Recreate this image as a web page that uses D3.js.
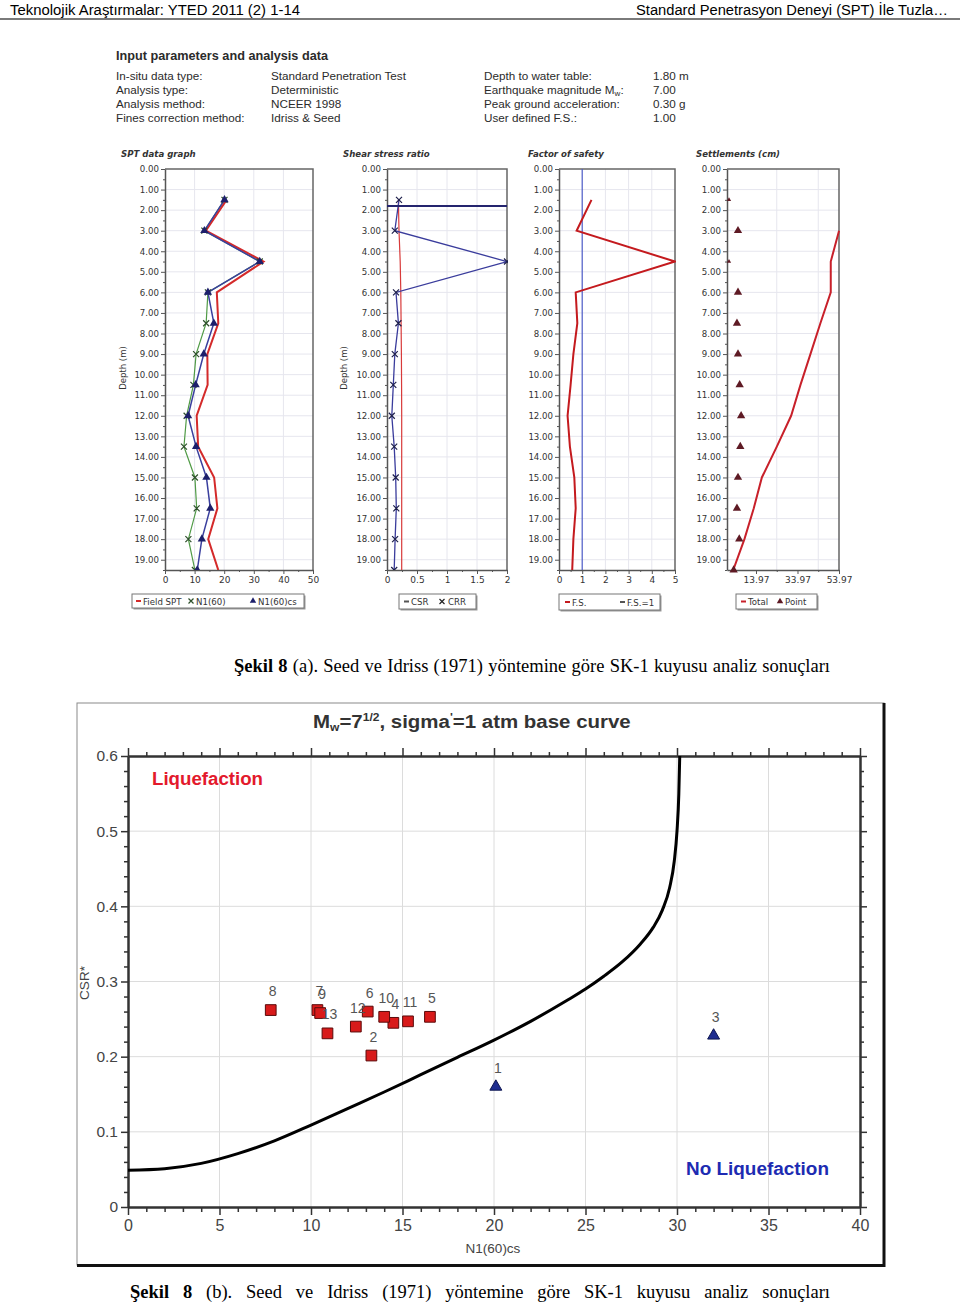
<!DOCTYPE html>
<html><head><meta charset="utf-8">
<script src="https://cdn.jsdelivr.net/npm/d3@7"></script>
<style>body{margin:0;background:#fff}svg{display:block}</style>
</head><body>
<svg id="c" width="960" height="1306"></svg>
<script>
// ---------------- DATA ----------------
const headerLeft = "Teknolojik Araştırmalar: YTED 2011 (2) 1-14";
const headerRight = "Standard Penetrasyon Deneyi (SPT) İle Tuzla…";
const paramTitle = "Input parameters and analysis data";
const paramLabelsL = ["In-situ data type:", "Analysis type:", "Analysis method:", "Fines correction method:"];
const paramValuesL = ["Standard Penetration Test", "Deterministic", "NCEER 1998", "Idriss & Seed"];
const paramLabelsR = ["Depth to water table:", "Earthquake magnitude M", "Peak ground acceleration:", "User defined F.S.:"];
const paramValuesR = ["1.80 m", "7.00", "0.30 g", "1.00"];

const depths   = [1.5, 3.0, 4.5, 6.0, 7.5, 9.0, 10.5, 12.0, 13.5, 15.0, 16.5, 18.0, 19.5];
const fieldSPT = [20.8, 13.8, 33.3, 17.5, 18.0, 14.3, 14.4, 10.7, 11.2, 16.6, 17.7, 14.6, 18.0];
const n160     = [20.1, 13.3, 32.0, 14.5, 13.9, 10.5, 9.6, 7.3, 6.4, 10.1, 10.7, 7.9, 10.1];
const n160cs   = [20.1, 13.3, 32.0, 14.5, 16.5, 13.1, 10.35, 7.8, 10.5, 14.0, 15.3, 12.45, 10.9];
const csr      = [0.19, 0.20, 0.22, 0.23, 0.235, 0.24, 0.243, 0.245, 0.245, 0.245, 0.245, 0.245, 0.245];
const crr      = [0.20, 0.13, 2.0, 0.15, 0.19, 0.13, 0.105, 0.08, 0.12, 0.145, 0.155, 0.135, 0.12];
const fsValues = [1.4, 0.76, 5.0, 0.72, 0.79, 0.62, 0.50, 0.37, 0.47, 0.66, 0.72, 0.62, 0.57];
const waterTable = 1.8;
const settleDepths = [3.0, 4.5, 6.0, 7.5, 9.0, 10.5, 12.0, 13.5, 15.0, 16.5, 18.0, 19.5];
const settleTotal  = [54.0, 50.0, 50.0, 45.0, 40.2, 35.4, 30.9, 24.0, 16.8, 12.9, 8.4, 3.0];
const settlePoint  = [0, 5.3, 0, 5.3, 4.8, 5.3, 6.1, 6.8, 6.4, 5.3, 4.8, 5.9, 3.2];
const depthTicks = d3.range(0, 20);

const sptTicks = [0, 10, 20, 30, 40, 50];
const srTicks = [0, 0.5, 1, 1.5, 2];
const fsTicks = [0, 1, 2, 3, 4, 5];
const setTicks = [13.97, 33.97, 53.97];
const setMinor = [3.97, 23.97, 43.97];

// bottom chart
const curveN   = [0, 2, 4, 6, 8, 10, 12, 14, 16, 18, 20, 22, 24, 25, 26, 27, 28, 28.7, 29.2, 29.6, 29.85, 30.0, 30.1, 30.15];
const curveCSR = [0.049, 0.051, 0.058, 0.071, 0.088, 0.109, 0.131, 0.153, 0.176, 0.199, 0.222, 0.247, 0.275, 0.290, 0.307, 0.326, 0.350, 0.372, 0.395, 0.425, 0.46, 0.50, 0.55, 0.60];
const pointIds  = [1, 2, 3, 4, 5, 6, 7, 8, 9, 10, 11, 12, 13];
const pointN    = n160cs;
const pointCSR  = [0.160, 0.2015, 0.228, 0.245, 0.253, 0.260, 0.262, 0.262, 0.258, 0.253, 0.247, 0.240, 0.231];
const liquefied = [false, true, false, true, true, true, true, true, true, true, true, true, true];
const bxTicks = [0, 5, 10, 15, 20, 25, 30, 35, 40];
const byTicks = [0, 0.1, 0.2, 0.3, 0.4, 0.5, 0.6];

const caption1 = ["Şekil 8", " (a). Seed ve Idriss (1971) yöntemine göre SK-1 kuyusu analiz sonuçları"];
const caption2 = ["Şekil 8", " (b). Seed ve Idriss (1971) yöntemine göre SK-1 kuyusu analiz sonuçları"];

// ---------------- DRAW ----------------
const svg = d3.select("#c");
const SANS = "Liberation Sans, Arial, sans-serif";
const DV = "DejaVu Sans, Verdana, sans-serif";

// header
svg.append("text").attr("x", 10).attr("y", 15).attr("font-family", SANS).attr("font-size", 14)
  .attr("textLength", 290).attr("lengthAdjust", "spacingAndGlyphs").text(headerLeft);
svg.append("text").attr("x", 948).attr("y", 15).attr("text-anchor", "end").attr("font-family", SANS).attr("font-size", 14)
  .attr("textLength", 312).attr("lengthAdjust", "spacingAndGlyphs").text(headerRight);
svg.append("line").attr("x1", 0).attr("x2", 960).attr("y1", 19).attr("y2", 19).attr("stroke", "#7a7a7a").attr("stroke-width", 2);

// parameters
const pg = svg.append("g").attr("font-family", SANS).attr("fill", "#2b2b2b");
pg.append("text").attr("x", 116).attr("y", 60).attr("font-size", 12.5).attr("font-weight", "bold")
  .attr("textLength", 212).attr("lengthAdjust", "spacingAndGlyphs").text(paramTitle);
const rowY = [80, 94, 108, 122];
paramLabelsL.forEach((t, i) => pg.append("text").attr("x", 116).attr("y", rowY[i]).attr("font-size", 11.7).text(t));
paramValuesL.forEach((t, i) => pg.append("text").attr("x", 271).attr("y", rowY[i]).attr("font-size", 11.7).text(t));
paramLabelsR.forEach((t, i) => {
  const tx = pg.append("text").attr("x", 484).attr("y", rowY[i]).attr("font-size", 11.7).text(t);
  if (i === 1) { tx.append("tspan").attr("font-size", 8).attr("dy", 2).text("w"); tx.append("tspan").attr("dy", -2).text(":"); }
});
paramValuesR.forEach((t, i) => pg.append("text").attr("x", 653).attr("y", rowY[i]).attr("font-size", 11.7).text(t));

// small panels
const TOP = 169, BOT = 570;
const yD = d3.scaleLinear().domain([0, 19.5]).range([TOP, BOT]);

function styleAxis(g, size, color) {
  g.select(".domain").attr("stroke", "#555").attr("stroke-width", 1.5);
  g.selectAll(".tick line").attr("stroke", "#555");
  g.selectAll("text").attr("font-family", DV).attr("font-size", size).attr("fill", color || "#333");
}

function panel(cfg) {
  const x = d3.scaleLinear().domain(cfg.domain).range(cfg.range);
  const g = svg.append("g");
  const [x0, x1] = cfg.range;
  g.append("rect").attr("x", x0).attr("y", TOP).attr("width", x1 - x0).attr("height", BOT - TOP).attr("fill", "#fff");
  g.selectAll("line.gh").data(depthTicks.slice(1)).join("line").attr("class", "gh")
    .attr("x1", x0).attr("x2", x1).attr("y1", d => yD(d)).attr("y2", d => yD(d)).attr("stroke", "#e6e6ee");
  g.selectAll("line.gv").data(cfg.grid).join("line").attr("class", "gv")
    .attr("x1", d => x(d)).attr("x2", d => x(d)).attr("y1", TOP).attr("y2", BOT).attr("stroke", "#e6e6ee");
  g.append("path").attr("d", `M${x0},${TOP}H${x1}V${BOT}`).attr("fill", "none").attr("stroke", "#666").attr("stroke-width", 1.5);
  const ya = g.append("g").attr("transform", `translate(${x0},0)`)
    .call(d3.axisLeft(yD).tickValues(depthTicks).tickFormat(d => d.toFixed(2)).tickSize(4).tickPadding(2).tickSizeOuter(0));
  styleAxis(ya, 8.6);
  const ym = g.append("g").attr("transform", `translate(${x0},0)`)
    .call(d3.axisLeft(yD).tickValues(depthTicks.map(d => d + 0.5)).tickFormat("").tickSize(2).tickSizeOuter(0));
  ym.select(".domain").remove(); ym.selectAll(".tick line").attr("stroke", "#555");
  const xa = g.append("g").attr("transform", `translate(0,${BOT})`)
    .call(d3.axisBottom(x).tickValues(cfg.ticks).tickFormat(cfg.fmt || (d => d)).tickSize(4).tickPadding(3).tickSizeOuter(0));
  styleAxis(xa, 9, "#333");
  const xm = g.append("g").attr("transform", `translate(0,${BOT})`)
    .call(d3.axisBottom(x).tickValues(cfg.minor).tickFormat("").tickSize(2).tickSizeOuter(0));
  xm.select(".domain").remove(); xm.selectAll(".tick line").attr("stroke", "#555");
  svg.append("text").attr("x", cfg.titleX).attr("y", 157).attr("font-family", DV).attr("font-size", 8.6)
    .attr("font-weight", "bold").attr("font-style", "italic").attr("fill", "#333").text(cfg.title);
  if (cfg.depthLabel) {
    svg.append("text").attr("transform", `translate(${cfg.depthLabel},368) rotate(-90)`).attr("text-anchor", "middle")
      .attr("font-family", DV).attr("font-size", 8.5).attr("fill", "#333").text("Depth (m)");
  }
  const clipId = "clip" + cfg.titleX;
  svg.append("clipPath").attr("id", clipId).append("rect").attr("x", x0).attr("y", TOP - 2).attr("width", x1 - x0 + 1).attr("height", BOT - TOP + 2);
  const plot = g.append("g").attr("clip-path", `url(#${clipId})`);
  return { x, g, plot };
}

function xMark(sel, cx, cy, r, color, w) {
  sel.append("path").attr("d", `M${cx - r},${cy - r}L${cx + r},${cy + r}M${cx - r},${cy + r}L${cx + r},${cy - r}`)
    .attr("stroke", color).attr("stroke-width", w || 1.3).attr("fill", "none");
}
function legendBox(x, y, w, h) {
  svg.append("rect").attr("x", x + 1.5).attr("y", y + 1.5).attr("width", w).attr("height", h).attr("fill", "#9a9a9a");
  svg.append("rect").attr("x", x).attr("y", y).attr("width", w).attr("height", h).attr("fill", "#fff").attr("stroke", "#777").attr("stroke-width", 1);
}
function legText(x, y, t) {
  svg.append("text").attr("x", x).attr("y", y).attr("font-family", DV).attr("font-size", 8.6).attr("fill", "#333").text(t);
}
function legDash(x, y, color) {
  svg.append("line").attr("x1", x).attr("x2", x + 5).attr("y1", y).attr("y2", y).attr("stroke", color).attr("stroke-width", 2);
}
function legTri(x, y, color) {
  svg.append("path").attr("d", d3.symbol(d3.symbolTriangle, 18)()).attr("transform", `translate(${x},${y})`).attr("fill", color);
}

const lineD = (xs, vals) => d3.line().x((d, i) => xs(vals[i])).y(d => yD(d));

// Panel 1 - SPT
const p1 = panel({ domain: [0, 50], range: [165, 313], ticks: sptTicks, minor: [5, 15, 25, 35, 45], grid: [10, 20, 30, 40], title: "SPT data graph", titleX: 121, depthLabel: 126 });
p1.plot.append("path").attr("d", lineD(p1.x, n160)(depths)).attr("fill", "none").attr("stroke", "#4f9a45").attr("stroke-width", 1.2);
p1.plot.append("path").attr("d", lineD(p1.x, fieldSPT)(depths)).attr("fill", "none").attr("stroke", "#d42a2a").attr("stroke-width", 2);
p1.plot.append("path").attr("d", lineD(p1.x, n160cs)(depths)).attr("fill", "none").attr("stroke", "#3a3f9e").attr("stroke-width", 1.5);
depths.forEach((d, i) => xMark(p1.plot, p1.x(n160[i]), yD(d), 3, "#2d4f2a", 1.2));
p1.plot.selectAll("path.t").data(depths).join("path").attr("class", "t")
  .attr("d", d3.symbol(d3.symbolTriangle, 30)).attr("transform", (d, i) => `translate(${p1.x(n160cs[i])},${yD(d)})`).attr("fill", "#1d1f6b");
legendBox(132, 594, 172, 14);
legDash(136, 601, "#d42a2a"); legText(143, 604.5, "Field SPT");
xMark(svg, 191, 601, 2.5, "#2d4f2a", 1.2); legText(196, 604.5, "N1(60)");
legTri(253, 601, "#1d1f6b"); legText(258, 604.5, "N1(60)cs");

// Panel 2 - Shear stress ratio
const p2 = panel({ domain: [0, 2], range: [387, 507], ticks: srTicks, minor: [0.25, 0.75, 1.25, 1.75], grid: [0.5, 1, 1.5], title: "Shear stress ratio", titleX: 343, depthLabel: 347 });
p2.plot.append("path").attr("d", lineD(p2.x, csr)(depths)).attr("fill", "none").attr("stroke", "#d83a3a").attr("stroke-width", 1.2);
p2.plot.append("path").attr("d", lineD(p2.x, crr)(depths)).attr("fill", "none").attr("stroke", "#3a3c9c").attr("stroke-width", 1.3);
p2.plot.append("line").attr("x1", 387).attr("x2", 507).attr("y1", yD(waterTable)).attr("y2", yD(waterTable)).attr("stroke", "#24246e").attr("stroke-width", 2);
depths.forEach((d, i) => xMark(p2.plot, p2.x(crr[i]), yD(d), 3, "#1d1f4b", 1.2));
legendBox(399, 594, 77, 15);
legDash(404, 601.5, "#555"); legText(411, 605, "CSR");
xMark(svg, 442, 601.5, 2.5, "#222", 1.2); legText(448, 605, "CRR");

// Panel 3 - Factor of safety
const p3 = panel({ domain: [0, 5], range: [559, 675], ticks: fsTicks, minor: [0.5, 1.5, 2.5, 3.5, 4.5], grid: [2, 3, 4], title: "Factor of safety", titleX: 528 });
p3.plot.append("line").attr("x1", p3.x(1)).attr("x2", p3.x(1)).attr("y1", TOP).attr("y2", BOT).attr("stroke", "#4b5ac6").attr("stroke-width", 1.2);
p3.plot.append("path").attr("d", lineD(p3.x, fsValues)(depths)).attr("fill", "none").attr("stroke", "#c41a1e").attr("stroke-width", 2);
legendBox(559, 594, 101, 16);
legDash(565, 602, "#c41a1e"); legText(572, 605.5, "F.S.");
legDash(620, 602, "#555"); legText(627, 605.5, "F.S.=1");

// Panel 4 - Settlements
const p4 = panel({ domain: [0, 53.97], range: [727, 839], ticks: setTicks, minor: setMinor, grid: setMinor.slice(1), title: "Settlements (cm)", titleX: 696, fmt: d => d.toFixed(2) });
p4.plot.append("path").attr("d", d3.line().x((d, i) => p4.x(settleTotal[i])).y(d => yD(d))(settleDepths))
  .attr("fill", "none").attr("stroke", "#c8202a").attr("stroke-width", 2);
p4.g.selectAll("path.sp").data(depths).join("path").attr("class", "sp")
  .attr("d", (d, i) => d3.symbol(d3.symbolTriangle, settlePoint[i] > 0 ? 30 : 8)())
  .attr("transform", (d, i) => `translate(${p4.x(settlePoint[i]) + (settlePoint[i] > 0 ? 0 : 2)},${yD(d)})`).attr("fill", "#5e1a24");
legendBox(736, 594, 81, 15);
legDash(741, 601.5, "#c8202a"); legText(748, 605, "Total");
legTri(780, 601.5, "#5e1a24"); legText(785, 605, "Point");

// captions
function caption(y, left, right, parts) {
  const t = svg.append("text").attr("x", left).attr("y", y).attr("font-family", "Liberation Serif, Times New Roman, serif").attr("font-size", 18.5).attr("fill", "#000");
  t.append("tspan").attr("font-weight", "bold").text(parts[0]);
  t.append("tspan").text(parts[1]);
  const w = t.node().getComputedTextLength();
  const spaces = (parts.join("").match(/ /g) || []).length;
  t.attr("word-spacing", (right - left - w) / spaces);
}
caption(672, 234, 830, caption1);
caption(1298, 130, 830, caption2);

// ---------------- bottom chart ----------------
const bx = d3.scaleLinear().domain([0, 40]).range([128, 860]);
const by = d3.scaleLinear().domain([0, 0.6]).range([1207, 756]);
const bg = svg.append("g");
bg.append("rect").attr("x", 77).attr("y", 703).attr("width", 807).attr("height", 562).attr("fill", "#fff").attr("stroke", "#8a8a8a").attr("stroke-width", 1);
bg.append("path").attr("d", "M884,703V1265.5H77").attr("fill", "none").attr("stroke", "#111").attr("stroke-width", 3);

// title (stretched horizontally to the reference width)
const tt = bg.append("text").attr("x", 0).attr("y", 0).attr("font-family", SANS)
  .attr("font-weight", "bold").attr("font-size", 17).attr("fill", "#333");
tt.append("tspan").text("M");
tt.append("tspan").attr("font-size", 10).attr("dy", 3).text("w");
tt.append("tspan").attr("dy", -3).text("=7");
tt.append("tspan").attr("font-size", 10).attr("dy", -7).text("1/2");
tt.append("tspan").attr("dy", 7).text(", sigma");
tt.append("tspan").attr("font-size", 10).attr("dy", -7).text("'");
tt.append("tspan").attr("dy", 7).text("=1 atm base curve");
{
  const bb = tt.node().getBBox();
  const sx = 318 / bb.width;
  tt.attr("transform", `translate(313,728) scale(${sx},1.05) translate(${-bb.x},0)`);
}

// grid
bg.selectAll("line.bgv").data(bxTicks.slice(1, -1)).join("line").attr("class", "bgv")
  .attr("x1", d => bx(d)).attr("x2", d => bx(d)).attr("y1", 756).attr("y2", 1207).attr("stroke", "#dcdcdc");
bg.selectAll("line.bgh").data(byTicks.slice(1, -1)).join("line").attr("class", "bgh")
  .attr("x1", 128).attr("x2", 860).attr("y1", d => by(d)).attr("y2", d => by(d)).attr("stroke", "#dcdcdc");

function bstyle(g, fs) {
  g.select(".domain").attr("stroke", "#333").attr("stroke-width", 2);
  g.selectAll(".tick line").attr("stroke", "#333").attr("stroke-width", 1.5);
  g.selectAll("text").attr("font-family", SANS).attr("font-size", fs).attr("fill", "#444");
}
const minorX = d3.range(0, 41).filter(d => d % 5 !== 0);
const minorY = d3.range(0, 31).map(d => d * 0.02).filter((d, i) => i % 5 !== 0);
let a = bg.append("g").attr("transform", "translate(0,1207)").call(d3.axisBottom(bx).tickValues(bxTicks).tickSize(8).tickPadding(5).tickSizeOuter(0));
bstyle(a, 16);
a = bg.append("g").attr("transform", "translate(0,1207)").call(d3.axisBottom(bx).tickValues(minorX).tickFormat("").tickSize(5).tickSizeOuter(0));
bstyle(a, 16);
a = bg.append("g").attr("transform", "translate(0,756)").call(d3.axisTop(bx).tickValues(bxTicks).tickFormat("").tickSize(8).tickSizeOuter(0));
bstyle(a, 16);
a = bg.append("g").attr("transform", "translate(0,756)").call(d3.axisTop(bx).tickValues(minorX).tickFormat("").tickSize(4).tickSizeOuter(0));
bstyle(a, 16);
a = bg.append("g").attr("transform", "translate(128,0)").call(d3.axisLeft(by).tickValues(byTicks).tickFormat(d => d === 0 ? "0" : d3.format(".1f")(d)).tickSize(7).tickPadding(3).tickSizeOuter(0));
bstyle(a, 15.5);
a = bg.append("g").attr("transform", "translate(128,0)").call(d3.axisLeft(by).tickValues(minorY).tickFormat("").tickSize(4).tickSizeOuter(0));
bstyle(a, 15);
a = bg.append("g").attr("transform", "translate(860,0)").call(d3.axisRight(by).tickValues(byTicks).tickFormat("").tickSize(7).tickSizeOuter(0));
bstyle(a, 15);
a = bg.append("g").attr("transform", "translate(860,0)").call(d3.axisRight(by).tickValues(minorY).tickFormat("").tickSize(4).tickSizeOuter(0));
bstyle(a, 15);

// axis titles
bg.append("text").attr("x", 493).attr("y", 1253).attr("text-anchor", "middle").attr("font-family", SANS).attr("font-size", 13.5).attr("fill", "#444").text("N1(60)cs");
bg.append("text").attr("transform", "translate(89,983) rotate(-90)").attr("text-anchor", "middle").attr("font-family", SANS).attr("font-size", 13.5).attr("fill", "#444").text("CSR*");

// zone labels
bg.append("text").attr("x", 152).attr("y", 785).attr("font-family", SANS).attr("font-weight", "bold").attr("font-size", 18)
  .attr("fill", "#e3192c").attr("textLength", 111).attr("lengthAdjust", "spacingAndGlyphs").text("Liquefaction");
bg.append("text").attr("x", 686).attr("y", 1175).attr("font-family", SANS).attr("font-weight", "bold").attr("font-size", 18)
  .attr("fill", "#1d2bb2").attr("textLength", 143).attr("lengthAdjust", "spacingAndGlyphs").text("No Liquefaction");

// base curve
svg.append("clipPath").attr("id", "bclip").append("rect").attr("x", 128).attr("y", 754).attr("width", 732).attr("height", 455);
bg.append("path").attr("clip-path", "url(#bclip)")
  .attr("d", d3.line().x(d => bx(d)).y((d, i) => by(curveCSR[i])).curve(d3.curveMonotoneX)(curveN))
  .attr("fill", "none").attr("stroke", "#000").attr("stroke-width", 3);

// points
const pts = pointIds.map((id, i) => ({ id, n: pointN[i], c: pointCSR[i], liq: liquefied[i] }));
bg.selectAll("path.pt").data(pts).join("path").attr("class", "pt")
  .attr("d", d => d.liq ? d3.symbol(d3.symbolSquare, 115)() : d3.symbol(d3.symbolTriangle, 62)())
  .attr("transform", d => `translate(${bx(d.n)},${by(d.c)})`)
  .attr("fill", d => d.liq ? "#d81a1a" : "#1f2d90")
  .attr("stroke", d => d.liq ? "#5a0a0a" : "#0e1650").attr("stroke-width", 1);
bg.selectAll("text.pl").data(pts).join("text").attr("class", "pl")
  .attr("x", d => bx(d.n) + 2).attr("y", d => by(d.c) - 14).attr("text-anchor", "middle")
  .attr("font-family", SANS).attr("font-size", 14).attr("fill", "#555").text(d => d.id);
</script>
</body></html>
